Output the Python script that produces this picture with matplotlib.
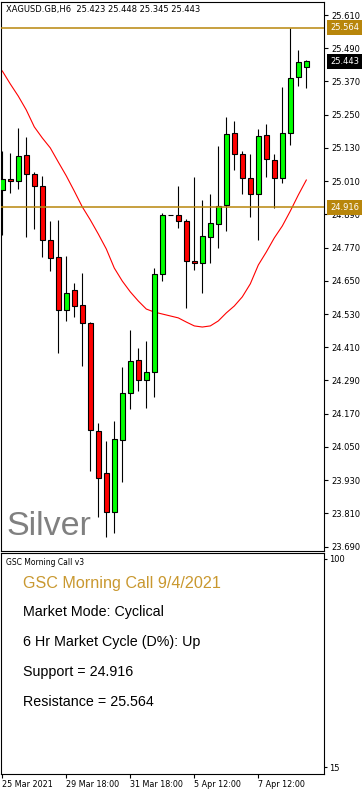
import matplotlib
matplotlib.use('Agg')
import matplotlib.pyplot as plt
import numpy as np

# XAGUSD H6 candles
opens = [24.978, 25.019, 25.009, 25.103, 25.035, 24.991, 24.797, 24.735, 24.544, 24.616,
         24.563, 24.497, 24.107, 23.955, 23.814, 24.074, 24.244, 24.363, 24.292, 24.320,
         24.674, 24.888, 24.888, 24.865, 24.722, 24.713, 24.808, 24.854, 24.923, 25.183,
         25.107, 25.020, 24.962, 25.176, 25.085, 25.021, 25.183, 25.385, 25.423]
highs = [25.120, 25.112, 25.202, 25.170, 25.043, 25.029, 24.867, 24.870, 24.740, 24.641,
         24.677, 24.500, 24.135, 24.072, 24.144, 24.338, 24.472, 24.407, 24.433, 24.695,
         24.896, 24.888, 24.992, 24.872, 25.026, 24.942, 24.964, 25.137, 25.242, 25.226,
         25.119, 25.107, 25.198, 25.216, 25.108, 25.349, 25.564, 25.484, 25.448]
lows = [24.815, 24.968, 24.983, 24.809, 24.838, 24.737, 24.687, 24.390, 24.506, 24.520,
        24.342, 23.964, 23.798, 23.724, 23.740, 23.925, 24.188, 24.253, 24.192, 24.232,
        24.650, 24.888, 24.842, 24.553, 24.689, 24.607, 24.713, 24.770, 24.831, 25.050,
        24.965, 24.879, 24.799, 25.024, 24.914, 25.004, 25.142, 25.355, 25.345]
closes = [25.019, 25.009, 25.101, 25.036, 24.991, 24.796, 24.731, 24.544, 24.605, 24.558,
          24.497, 24.110, 23.937, 23.814, 24.078, 24.244, 24.360, 24.292, 24.320, 24.674,
          24.888, 24.888, 24.865, 24.721, 24.713, 24.812, 24.858, 24.919, 25.179, 25.108,
          25.020, 24.962, 25.172, 25.089, 25.023, 25.183, 25.381, 25.439, 25.443]
ma = [25.408, 25.361, 25.317, 25.267, 25.206, 25.166, 25.130, 25.079, 25.029, 24.974,
      24.917, 24.870, 24.819, 24.765, 24.696, 24.649, 24.610, 24.577, 24.548, 24.537,
      24.530, 24.523, 24.516, 24.501, 24.487, 24.483, 24.487, 24.505, 24.534, 24.559,
      24.592, 24.639, 24.707, 24.754, 24.805, 24.848, 24.902, 24.960, 25.014]

support = 24.916
resistance = 25.564
last_price = 25.443

price_ticks = [25.610, 25.490, 25.370, 25.250, 25.130, 25.010, 24.890, 24.770, 24.650,
               24.530, 24.410, 24.290, 24.170, 24.050, 23.930, 23.810, 23.690]
date_pos = [0, 8, 16, 24, 32]
date_labels = ['25 Mar 2021', '29 Mar 18:00', '31 Mar 18:00', '5 Apr 12:00', '7 Apr 12:00']

panel_title = 'GSC Morning Call 9/4/2021'
panel_lines = ['Market Mode: Cyclical', '6 Hr Market Cycle (D%): Up',
               'Support = 24.916', 'Resistance = 25.564']

gold = '#b8860b'
W, H = 364, 794
fig = plt.figure(figsize=(W / 100, H / 100), dpi=100)
ax = fig.add_axes([1 / W, 1 - 551 / H, 323 / W, 549 / H])
ax2 = fig.add_axes([1 / W, 20 / H, 323 / W, 221 / H])

o = np.array(opens)
c = np.array(closes)
x = np.arange(len(o))
cols = ['#00ff00' if cc >= oo else '#ff0000' for oo, cc in zip(o, c)]

ax.plot(x, ma, color='#ff0000', lw=0.8, zorder=1)
ax.vlines(x, lows, highs, color='black', lw=0.8, zorder=2)
ax.bar(x, np.abs(c - o), bottom=np.minimum(o, c), width=0.6, color=cols,
       edgecolor='black', linewidth=0.8, zorder=3)
ax.axhline(support, color=gold, lw=1.1, zorder=4)
ax.axhline(resistance, color=gold, lw=1.1, zorder=4)

ax.set_xlim(-0.16, 40.21)
ax.set_ylim(23.674, 25.657)
ax.yaxis.tick_right()
ax.set_yticks(price_ticks)
ax.set_yticklabels(['%.3f' % t for t in price_ticks])
ax.tick_params(axis='y', length=3, width=0.8, labelsize=6, pad=2)
ax.set_xticks([])
for s in ax.spines.values():
    s.set_linewidth(0.8)

ytr = ax.get_yaxis_transform()
for val, fc in [(resistance, gold), (support, gold), (last_price, 'black')]:
    ax.text(1.0186, val, '%.3f' % val, transform=ytr, ha='left', va='center',
            fontsize=6, color='white', clip_on=False, zorder=5,
            bbox=dict(boxstyle='square,pad=0.35', fc=fc, ec='none'))

ax.text(0.0155, 0.9872, 'XAGUSD.GB,H6  %.3f %.3f %.3f %.3f' % (opens[-1], highs[-1], lows[-1], closes[-1]),
        transform=ax.transAxes, ha='left', va='center', fontsize=6)
ax.text(0.0155, 0.029, 'Silver', transform=ax.transAxes, ha='left', va='baseline',
        fontsize=24.5, color='#808080', family='Liberation Sans')

# indicator sub-window
ax2.set_xlim(-0.16, 40.21)
ax2.set_ylim(12.15, 102.45)
ax2.yaxis.tick_right()
ax2.set_yticks([15, 100])
ax2.set_yticklabels(['15', '100'])
ax2.tick_params(axis='y', length=2, width=0.8, labelsize=6, pad=2)
ax2.set_xticks(date_pos)
ax2.set_xticklabels(date_labels, ha='left')
ax2.tick_params(axis='x', length=3, width=0.8, labelsize=5.8, pad=1.5)
for s in ax2.spines.values():
    s.set_linewidth(0.8)

ax2.text(0.0155, 0.959, 'GSC Morning Call v3', transform=ax2.transAxes, ha='left',
         va='center', fontsize=5.5)
ax2.text(0.068, 0.864, panel_title, transform=ax2.transAxes, ha='left', va='center',
         fontsize=11.6, color='#c9982f', family='Liberation Sans')
for i, line in enumerate(panel_lines):
    ax2.text(0.068, 0.733 - i * 0.1355, line, transform=ax2.transAxes, ha='left',
             va='center', fontsize=10.3, family='Liberation Sans')

fig.savefig('out.png', dpi=100)
